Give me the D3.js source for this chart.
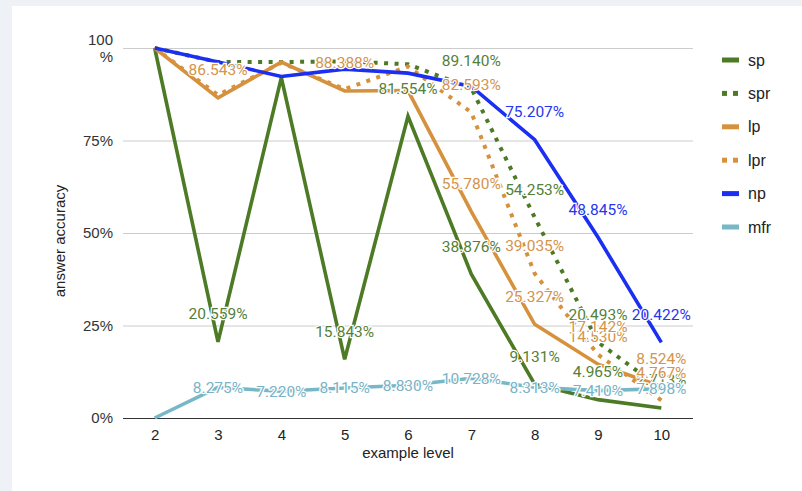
<!DOCTYPE html>
<html>
<head>
<meta charset="utf-8">
<script src="https://cdn.jsdelivr.net/npm/d3@7"></script>
<style>
  html, body { margin: 0; padding: 0; background: #eef2f6; }
  svg { display: block; }
</style>
</head>
<body>
<svg id="chart" width="802" height="491"></svg>
<script>
// ---- data ----
const levels = [2, 3, 4, 5, 6, 7, 8, 9, 10];
const seriesNames = ["sp", "spr", "lp", "lpr", "np", "mfr"];
const sp  = [100, 20.559, 92.0, 15.843, 81.554, 38.876, 9.131, 4.965, 2.713];
const spr = [100, 96.2, 96.2, 96.4, 95.6, 89.140, 54.253, 20.493, 7.9];
const lp  = [100, 86.543, 96.2, 88.388, 88.5, 55.780, 25.327, 14.530, 8.524];
const lpr = [100, 87.3, 96.0, 88.9, 95.0, 82.593, 39.035, 17.142, 4.767];
const np  = [100, 96.2, 92.3, 94.3, 93.2, 89.6, 75.207, 48.845, 20.422];
const mfr = [0, 8.275, 7.220, 8.115, 8.830, 10.728, 8.313, 7.410, 7.898];
// labels shown in the chart (null = hidden)
const spLabels  = [null, "20.559%", null, "15.843%", "81.554%", "38.876%", "9.131%", "4.965%", "2.713%"];
const sprLabels = [null, null, null, null, null, "89.140%", "54.253%", "20.493%", null];
const lpLabels  = [null, "86.543%", null, "88.388%", null, "55.780%", "25.327%", "14.530%", "8.524%"];
const lprLabels = [null, null, null, null, null, "82.593%", "39.035%", "17.142%", "4.767%"];
const npLabels  = [null, null, null, null, null, null, "75.207%", "48.845%", "20.422%"];
const mfrLabels = [null, "8.275%", "7.220%", "8.115%", "8.830%", "10.728%", "8.313%", "7.410%", "7.898%"];
const yTicks = [0, 25, 50, 75, 100];
const xTitle = "example level";
const yTitle = "answer accuracy";

// ---- styles ----
const styles = {
  sp:  { color: "#4d7a25", label: "#557f38", dash: null, labelDy: -28 },
  spr: { color: "#4d7a25", label: "#557f38", dash: "4 6.5", labelDy: -28 },
  lp:  { color: "#d6913d", label: "#d3944b", dash: null, labelDy: -28 },
  lpr: { color: "#d6913d", label: "#d3944b", dash: "4 6.5", labelDy: -28 },
  np:  { color: "#1a2ff2", label: "#2636ee", dash: null, labelDy: -28 },
  mfr: { color: "#78b8c6", label: "#78b3c6", dash: null, labelDy: 0 }
};
const seriesValues = { sp, spr, lp, lpr, np, mfr };
const seriesLabels = { sp: spLabels, spr: sprLabels, lp: lpLabels, lpr: lprLabels, np: npLabels, mfr: mfrLabels };

const svg = d3.select("#chart");
svg.append("rect").attr("x", 12).attr("y", 6).attr("width", 790).attr("height", 485).attr("fill", "#ffffff");

const plotL = 123, plotR = 693, plotT = 48, plotB = 418;
const x = d3.scalePoint().domain(levels).range([plotL, plotR]).padding(0.5);
const y = d3.scaleLinear().domain([0, 100]).range([plotB, plotT]);

// gridlines
const grid = svg.append("g").attr("transform", `translate(${plotL},0)`)
  .call(d3.axisLeft(y).tickValues(yTicks).tickSize(-(plotR - plotL)).tickFormat(""));
grid.select(".domain").remove();
grid.selectAll(".tick line").attr("stroke", d => d === 0 ? "#333" : "#cccccc").attr("stroke-width", 1);

// y tick labels
const yAxis = svg.append("g").attr("transform", `translate(${plotL},0)`)
  .call(d3.axisLeft(y).tickValues(yTicks).tickSize(0).tickPadding(10).tickFormat(d => d + "%"));
yAxis.select(".domain").remove();
yAxis.selectAll("text").attr("font-family", "Liberation Sans, Arial, sans-serif").attr("font-size", 15).attr("fill", "#333");
yAxis.selectAll(".tick").filter(d => d === 100).select("text").each(function () {
  const t = d3.select(this);
  t.text(null).attr("dy", null);
  t.append("tspan").attr("x", -10).attr("dy", "-0.25em").text("100");
  t.append("tspan").attr("x", -10).attr("dy", "1.15em").text("%");
});

// x axis
const xAxis = svg.append("g").attr("transform", `translate(0,${plotB})`)
  .call(d3.axisBottom(x).tickSize(0).tickPadding(11));
xAxis.select(".domain").remove();
xAxis.selectAll("text").attr("font-family", "Liberation Sans, Arial, sans-serif").attr("font-size", 15).attr("fill", "#222");

svg.append("text").attr("x", (plotL + plotR) / 2).attr("y", 458).attr("text-anchor", "middle")
  .attr("font-family", "Liberation Sans, Arial, sans-serif").attr("font-size", 15).attr("fill", "#222").text(xTitle);
svg.append("text").attr("transform", `translate(65,241) rotate(-90)`).attr("text-anchor", "middle")
  .attr("font-family", "Liberation Sans, Arial, sans-serif").attr("font-size", 15).attr("fill", "#222").text(yTitle);

// lines
const line = d3.line().x((d, i) => x(levels[i])).y(d => y(d));
seriesNames.forEach(name => {
  const st = styles[name];
  svg.append("path").datum(seriesValues[name])
    .attr("d", line)
    .attr("fill", "none")
    .attr("stroke", st.color)
    .attr("stroke-width", st.dash ? 4 : 3.6)
    .attr("stroke-dasharray", st.dash)
    .attr("stroke-linejoin", "miter");
});

// data labels
seriesNames.forEach(name => {
  const st = styles[name];
  const vals = seriesValues[name];
  const labs = seriesLabels[name];
  svg.append("g").selectAll("text")
    .data(labs.map((l, i) => ({ l, i })).filter(d => d.l !== null))
    .join("text")
    .attr("x", d => x(levels[d.i]))
    .attr("y", d => y(vals[d.i]) + st.labelDy)
    .attr("dy", "0.35em")
    .attr("text-anchor", "middle")
    .attr("font-family", "Roboto, sans-serif")
    .attr("font-size", 15.5)
    .attr("fill", st.label)
    .attr("stroke", "#fff")
    .attr("stroke-width", 2.5)
    .attr("paint-order", "stroke")
    .text(d => d.l);
});

// legend
const legend = svg.append("g");
seriesNames.forEach((name, i) => {
  const st = styles[name];
  const ly = 60 + i * 33.4;
  if (st.dash) {
    legend.append("rect").attr("x", 722).attr("y", ly - 2.5).attr("width", 5).attr("height", 5).attr("fill", st.color);
    legend.append("rect").attr("x", 733).attr("y", ly - 2.5).attr("width", 5).attr("height", 5).attr("fill", st.color);
  } else {
    legend.append("rect").attr("x", 722).attr("y", ly - 2.5).attr("width", 17).attr("height", 5).attr("fill", st.color);
  }
  legend.append("text").attr("x", 748).attr("y", ly).attr("dy", "0.35em")
    .attr("font-family", "Liberation Sans, Arial, sans-serif").attr("font-size", 16).attr("fill", "#222").text(name);
});
</script>
</body>
</html>
